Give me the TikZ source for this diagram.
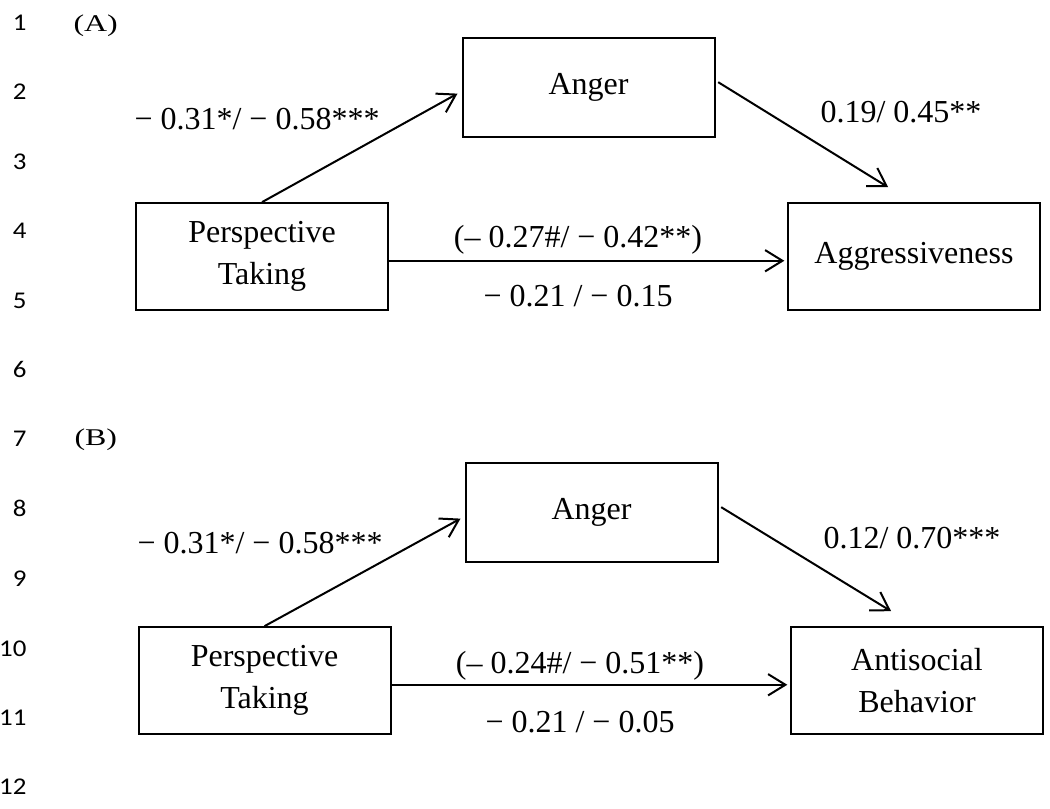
\documentclass[tikz,border=0pt]{standalone}
\usepackage{fontspec}
\setmainfont{Liberation Serif}
\newfontfamily\lnfont{Carlito}
\usepackage{tikz}
\usetikzlibrary{arrows.meta,positioning}
\newcommand{\widen}[1]{\scalebox{1.33}[1]{#1}}
\newcommand{\lnwide}[1]{\scalebox{1.12}[1]{#1}}

\begin{document}
\begin{tikzpicture}[x=0.375pt,y=-0.375pt,
  varbox/.style={draw, line width=0.75pt, minimum width=94.5pt, minimum height=40pt, inner sep=0pt, align=center, font=\fontsize{12}{16}\selectfont},
  coef/.style={anchor=base, inner sep=0pt, font=\fontsize{12}{14}\selectfont},
  lnum/.style={anchor=base east, inner sep=0pt, font=\lnfont\fontsize{9}{11}\selectfont},
  panellbl/.style={anchor=base west, inner sep=0pt, font=\fontsize{9}{11}\selectfont},
  arr/.style={line width=0.75pt, -{Straight Barb[length=6.5pt,width=8pt]}}]
\useasboundingbox (0,0) rectangle (1050,809);
\node[lnum] (ln1) at (27,31) {\lnwide{1}};
\node[lnum] (ln2) at (27,100) {\lnwide{2}};
\node[lnum] (ln3) at (27,170) {\lnwide{3}};
\node[lnum] (ln4) at (27,239) {\lnwide{4}};
\node[lnum] (ln5) at (27,309) {\lnwide{5}};
\node[lnum] (ln6) at (27,378) {\lnwide{6}};
\node[lnum] (ln7) at (27,447) {\lnwide{7}};
\node[lnum] (ln8) at (27,517) {\lnwide{8}};
\node[lnum] (ln9) at (27,586) {\lnwide{9}};
\node[lnum] (ln10) at (27,656) {\lnwide{10}};
\node[lnum] (ln11) at (27,725) {\lnwide{11}};
\node[lnum] (ln12) at (27,794) {\lnwide{12}};
\node[panellbl] (panelA) at (73,32) {\widen{(A)}};
\node[panellbl] (panelB) at (74,445) {\widen{(B)}};
\node[varbox, minimum height=37pt] (angerA) at (588.5,87.5) {Anger};
\node[varbox] (ptA) at (262,256.5) {Perspective\\Taking};
\node[varbox] (aggr) at (914,256.5) {Aggressiveness};
\draw[arr] (ptA.north) -- ([xshift=-1.5pt,yshift=-2.3pt]angerA.west);
\draw[arr] ([xshift=1pt,yshift=2pt]angerA.east) -- ([xshift=-9.7pt,yshift=5.6pt]aggr.north);
\draw[arr] ([yshift=-1.6pt]ptA.east) -- ([xshift=-1pt,yshift=-1.6pt]aggr.west);
\node[coef] (paA) at (257,130) {− 0.31*/ − 0.58***};
\node[coef] (pbA) at (901,123) {0.19/ 0.45**};
\node[coef] (pcA) at (578,248) {(– 0.27\#/ − 0.42**)};
\node[coef] (dcA) at (578,307) {− 0.21 / − 0.15};
\node[varbox, minimum height=37pt] (angerB) at (591.5,512.5) {Anger};
\node[varbox] (ptB) at (264.5,680.5) {Perspective\\Taking};
\node[varbox] (antisoc) at (917,680.5) {Antisocial\\Behavior};
\draw[arr] (ptB.north) -- ([xshift=-1.5pt,yshift=-2.3pt]angerB.west);
\draw[arr] ([xshift=1pt,yshift=2pt]angerB.east) -- ([xshift=-9.7pt,yshift=5.6pt]antisoc.north);
\draw[arr] ([yshift=-1.6pt]ptB.east) -- ([xshift=-1pt,yshift=-1.6pt]antisoc.west);
\node[coef] (paB) at (260,553) {− 0.31*/ − 0.58***};
\node[coef] (pbB) at (912,548) {0.12/ 0.70***};
\node[coef] (pcB) at (580,673) {(– 0.24\#/ − 0.51**)};
\node[coef] (dcB) at (580,732) {− 0.21 / − 0.05};
\end{tikzpicture}
\end{document}
